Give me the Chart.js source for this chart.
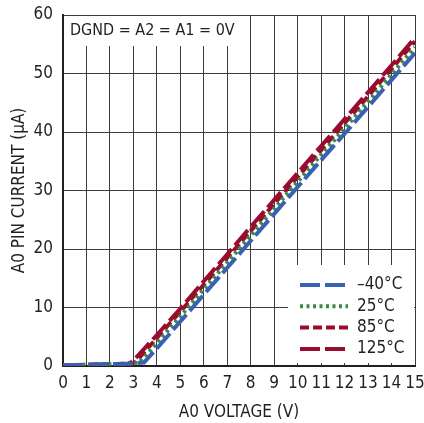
<!DOCTYPE html>
<html>
<head>
<meta charset="utf-8">
<script src="https://cdn.jsdelivr.net/npm/chart.js@4.4.1/dist/chart.umd.min.js"></script>
<style>
  html, body { margin:0; padding:0; background:#fff; }
  #wrap { width:424px; height:423px; }
</style>
</head>
<body>
<div id="wrap"><canvas id="c" width="424" height="423"></canvas></div>
<script>
/* DATA */

const xTicks = [0,1,2,3,4,5,6,7,8,9,10,11,12,13,14,15];
const yTicks = [0,10,20,30,40,50,60];

const vMinus40 = [0,1,2,3,3.45,4,5,6,7,8,9,10,11,12,13,14,15];
const iMinus40 = [0.1,0.2,0.3,0.45,0.6,3.0,7.6,12.2,16.8,21.4,26.0,30.6,35.2,39.7,44.3,48.9,53.5];

const v25 = [0,1,2,3,3.25,4,5,6,7,8,9,10,11,12,13,14,15];
const i25 = [0.1,0.2,0.3,0.45,0.6,3.9,8.5,13.1,17.7,22.3,26.9,31.5,36.1,40.6,45.2,49.8,54.5];

const v85 = [0,1,2,2.9,3.1,4,5,6,7,8,9,10,11,12,13,14,15];
const i85 = [0.1,0.2,0.3,0.4,0.7,4.8,9.3,13.9,18.5,23.1,27.7,32.3,36.9,41.5,46.1,50.8,55.5];

const v125 = [0,1,2,2.8,3,4,5,6,7,8,9,10,11,12,13,14,15];
const i125 = [0.1,0.2,0.3,0.4,0.9,5.3,9.8,14.5,19.1,23.8,28.4,33.0,37.6,42.2,46.8,51.4,56.1];

const seriesNames = ['\u201340\u00B0C','25\u00B0C','85\u00B0C','125\u00B0C'];

function pts(xs, ys){
    return xs.map((x,i)=>({x:x, y:ys[i]}));
}

const FONT = "'DejaVu Sans Condensed', 'Liberation Sans Narrow', sans-serif";

/* WHITE BOXES + LEGEND + NOTE */

const overlay = {
    id:'overlay',
    beforeDatasetsDraw(chart){
        const ctx = chart.ctx;
        const a = chart.chartArea;
        ctx.save();
        ctx.fillStyle = '#fff';
        // note box
        ctx.fillRect(a.left+1, a.top+1, 172, 30);
        // legend box
        ctx.fillRect(a.right-127, a.bottom-101, 126, 98);
        ctx.restore();
    },
    afterDatasetsDraw(chart){
        const ctx = chart.ctx;
        const a = chart.chartArea;
        ctx.save();
        ctx.fillStyle = '#231f20';
        ctx.font = '16px ' + FONT;
        ctx.textBaseline = 'middle';
        ctx.textAlign = 'left';
        ctx.fillText('DGND = A2 = A1 = 0V', a.left+7, a.top+16);

        ctx.font = '17px ' + FONT;
        chart.data.datasets.forEach((ds,i)=>{
            const y = a.bottom - 81 + i*21.3;
            const x0 = a.right - 115;
            ctx.beginPath();
            ctx.strokeStyle = ds.borderColor;
            ctx.lineWidth = ds.borderWidth;
            ctx.setLineDash(ds.borderDash);
            ctx.moveTo(x0, y);
            ctx.lineTo(x0+48, y);
            ctx.stroke();
            ctx.setLineDash([]);
            ctx.fillText(ds.label, x0+57, y);
        });
        ctx.restore();
    }
};

const colors = ['#3a60b2','#3a8a48','#9a0c2e','#9a0c2e'];
const dashes = [[20,5],[3,3.5],[9,4],[20,5]];
const allData = [pts(vMinus40,iMinus40), pts(v25,i25), pts(v85,i85), pts(v125,i125)];

const chart = new Chart(document.getElementById('c'),{

    type:'scatter',

    data:{
        datasets: seriesNames.map((name,i)=>({
            label:name,
            data:allData[i],
            showLine:true,
            borderColor:colors[i],
            borderWidth:4,
            borderDash:dashes[i],
            pointRadius:0,
            tension:0
        }))
    },

    options:{
        responsive:false,
        animation:false,
        layout:{ padding:{ top:15, right:9, left:0, bottom:0 } },
        plugins:{
            legend:{ display:false },
            tooltip:{ enabled:false }
        },
        scales:{
            x:{
                type:'linear',
                min:0, max:15,
                afterBuildTicks(s){ s.ticks = xTicks.map(v=>({value:v})); },
                afterFit(s){ s.height = 57; s.paddingLeft = 0; s.paddingRight = 0; },
                grid:{ color:'#3c3c3c', lineWidth:1, drawTicks:false },
                border:{ color:'#231f20', width:2 },
                ticks:{ color:'#231f20', padding:7, font:{ family:FONT, size:17 }, maxRotation:0, autoSkip:false },
                title:{ display:true, text:'A0 VOLTAGE (V)', color:'#231f20', font:{ family:FONT, size:17 }, padding:{ top:2, bottom:0 } }
            },
            y:{
                type:'linear',
                min:0, max:60,
                afterBuildTicks(s){ s.ticks = yTicks.map(v=>({value:v})); },
                afterFit(s){ s.width = 63; s.paddingTop = 0; s.paddingBottom = 0; },
                grid:{ color:'#3c3c3c', lineWidth:1, drawTicks:false },
                border:{ color:'#231f20', width:2 },
                ticks:{ color:'#231f20', padding:10, font:{ family:FONT, size:17 } },
                title:{ display:true, text:'A0 PIN CURRENT (\u00B5A)', color:'#231f20', font:{ family:FONT, size:17 }, padding:{ top:9, bottom:4 } }
            }
        }
    },

    plugins:[overlay]

});
</script>
</body>
</html>
